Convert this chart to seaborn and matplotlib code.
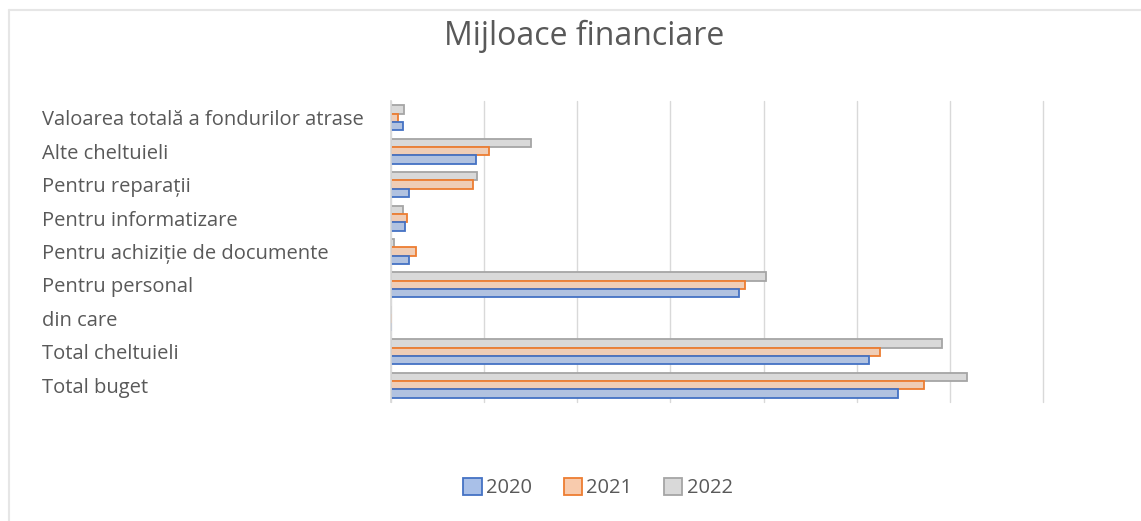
"""Mijloace financiare: grouped horizontal bars, Excel look."""

import matplotlib

matplotlib.use("Agg")
import matplotlib.pyplot as plt
import pandas as pd
import seaborn as sns
from matplotlib.lines import Line2D
from matplotlib.patches import Patch

categories = [
    "Valoarea totală a fondurilor atrase",
    "Alte cheltuieli",
    "Pentru reparații",
    "Pentru informatizare",
    "Pentru achiziție de documente",
    "Pentru personal",
    "din care",
    "Total cheltuieli",
    "Total buget",
]
years = ["2020", "2021", "2022"]
v2020 = [0.13, 0.91, 0.19, 0.15, 0.19, 3.74, 0.0, 5.13, 5.44]
v2021 = [0.08, 1.05, 0.88, 0.17, 0.27, 3.80, 0.0, 5.25, 5.72]
v2022 = [0.14, 1.50, 0.92, 0.13, 0.03, 4.03, 0.0, 5.92, 6.18]

fills = {"2020": "#A9C0E8", "2021": "#F8CBAD", "2022": "#D9D9D9"}
edges = {"2020": "#4472C4", "2021": "#ED7D31", "2022": "#A5A5A5"}
TEXT = "#595959"

df = pd.DataFrame({
    "categorie": categories * 3,
    "an": ["2020"] * 9 + ["2021"] * 9 + ["2022"] * 9,
    "valoare": v2020 + v2021 + v2022,
})

sns.set_theme(style="white")
plt.rcParams["font.family"] = ["Open Sans", "DejaVu Sans"]

W, H = 1141, 521
fig = plt.figure(figsize=(W / 100, H / 100), dpi=100)
ax = fig.add_axes([391 / W, 1 - 402 / H, (1043 - 391) / W, (402 - 101) / H])

# top group bar is drawn first by seaborn, so 2022 goes first
draw_order = ["2022", "2021", "2020"]
sns.barplot(
    data=df, y="categorie", x="valoare", hue="an", order=categories,
    hue_order=draw_order, palette=fills, orient="h", width=0.75,
    legend=False, ax=ax,
)
for cont, yr in zip(ax.containers, draw_order):
    for bar in cont:
        bar.set_edgecolor(edges[yr])
        bar.set_linewidth(1.3)

ax.set_xlim(0, 7)
ax.set_ylim(len(categories) - 0.5, -0.5)
ax.set_xticks(range(0, 8))
ax.set_xticklabels([])
ax.xaxis.grid(True, color="#D9D9D9", linewidth=1)
for gl in ax.get_xgridlines():
    gl.set_clip_on(False)
ax.set_axisbelow(True)
ax.set_xlabel("")
ax.set_ylabel("")
for side in ["top", "right", "bottom"]:
    ax.spines[side].set_visible(False)
ax.spines["left"].set_color("#D9D9D9")
ax.tick_params(axis="both", length=0)
ax.tick_params(axis="y", pad=(391 - 42) * 0.72, labelsize=14.5, labelcolor=TEXT)
for lab in ax.get_yticklabels():
    lab.set_horizontalalignment("left")

fig.text(584 / W, 1 - 36 / H, "Mijloace financiare", ha="center", va="center",
         fontsize=23, color=TEXT)

handles = [Patch(facecolor=fills[y], edgecolor=edges[y], linewidth=1.3) for y in years]
fig.legend(handles, years, loc="center", bbox_to_anchor=(598 / W, 1 - 488 / H),
           ncol=3, frameon=False, fontsize=14.5, labelcolor=TEXT,
           handlelength=0.9, handleheight=0.9, handletextpad=0.2, columnspacing=1.6)

# faint chart-area border (only top and left edges are visible)
fig.add_artist(Line2D([9 / W, 1], [1 - 10 / H, 1 - 10 / H], color="#E6E6E6", lw=1.5))
fig.add_artist(Line2D([9 / W, 9 / W], [0, 1 - 10 / H], color="#E6E6E6", lw=1.5))

fig.savefig("out.png", dpi=100)
